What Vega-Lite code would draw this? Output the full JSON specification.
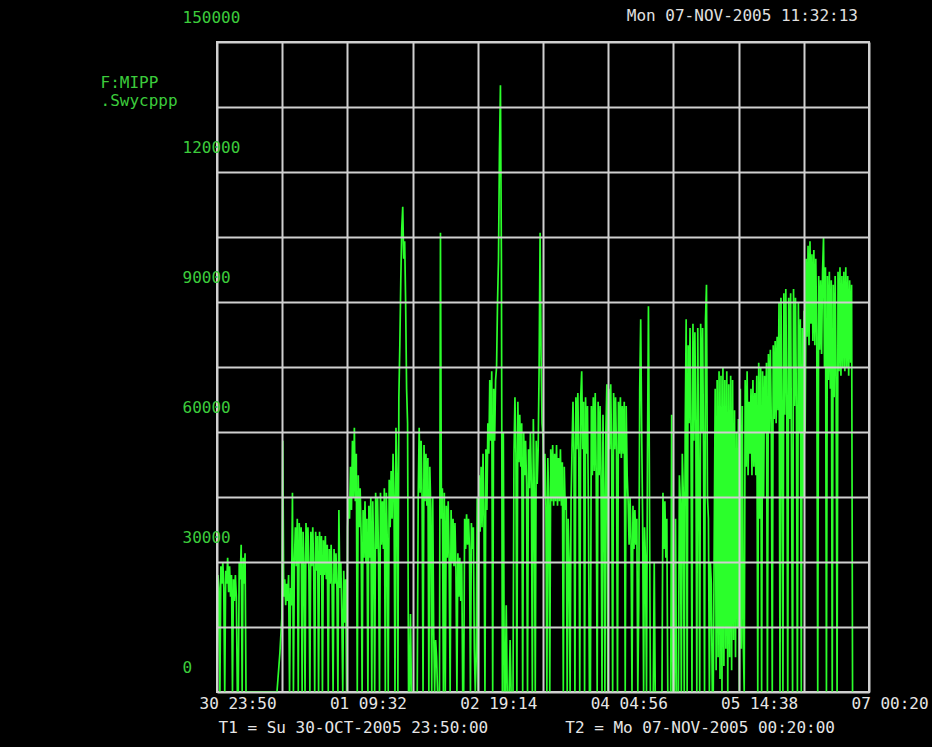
{
"$schema":"https://vega.github.io/schema/vega-lite/v6.json",
"width":652,"height":650,
"autosize":{"type":"none"},
"padding":{"left":217,"top":42,"right":63,"bottom":55},
"background":"#000000",
"config":{"view":{"stroke":"#d0d0d0","strokeWidth":2,"fill":"#000000"}},
"title":{"text":"Mon 07-NOV-2005 11:32:13","anchor":"end","frame":"group","font":"DejaVu Sans Mono","fontSize":16,"fontWeight":"normal","color":"#e0e0e0","offset":-15,"dx":-11},
"data":{"values":[
{"h":0,"v":0},{"h":0.25,"v":27000},{"h":0.5,"v":24000},{"h":0.75,"v":0},{"h":1,"v":29000},{"h":1.25,"v":25000},{"h":1.5,"v":30000},{"h":1.75,"v":24000},{"h":2,"v":0},{"h":2.25,"v":28000},{"h":2.5,"v":25000},{"h":2.75,"v":31000},{"h":3,"v":23000},{"h":3.25,"v":29000},{"h":3.5,"v":22000},{"h":3.75,"v":27000},{"h":4,"v":0},{"h":4.25,"v":26000},{"h":4.5,"v":21000},{"h":4.75,"v":27000},{"h":5,"v":22000},{"h":5.25,"v":0},{"h":5.5,"v":0},{"h":5.75,"v":30000},{"h":6,"v":26000},{"h":6.25,"v":34000},{"h":6.5,"v":0},{"h":6.75,"v":31000},{"h":7,"v":25000},{"h":7.25,"v":32000},{"h":7.5,"v":0},
{"h":15.5,"v":0},{"h":15.75,"v":3000},{"h":16,"v":6000},{"h":16.25,"v":9000},{"h":16.5,"v":13000},{"h":16.75,"v":17000},{"h":17,"v":58000},{"h":17.25,"v":22000},{"h":17.5,"v":26000},{"h":17.75,"v":20000},{"h":18,"v":25000},{"h":18.25,"v":21000},{"h":18.5,"v":27000},{"h":18.75,"v":0},{"h":19,"v":24000},{"h":19.25,"v":20000},{"h":19.5,"v":46000},{"h":19.75,"v":0},
{"h":20,"v":30000},{"h":20.25,"v":38000},{"h":20.5,"v":29000},{"h":20.75,"v":40000},{"h":21,"v":0},{"h":21.25,"v":39000},{"h":21.5,"v":30000},{"h":21.75,"v":38000},{"h":22,"v":0},{"h":22.25,"v":37000},{"h":22.5,"v":29000},{"h":22.75,"v":0},{"h":23,"v":39000},{"h":23.25,"v":30000},{"h":23.5,"v":38000},{"h":23.75,"v":28000},{"h":24,"v":0},{"h":24.25,"v":37000},{"h":24.5,"v":29000},{"h":24.75,"v":38000},{"h":25,"v":28000},{"h":25.25,"v":0},{"h":25.5,"v":37000},{"h":25.75,"v":28000},{"h":26,"v":36000},{"h":26.25,"v":0},{"h":26.5,"v":37000},{"h":26.75,"v":27000},{"h":27,"v":36000},{"h":27.25,"v":0},{"h":27.5,"v":35000},{"h":27.75,"v":27000},{"h":28,"v":36000},{"h":28.25,"v":26000},{"h":28.5,"v":34000},{"h":28.75,"v":0},{"h":29,"v":33000},{"h":29.25,"v":25000},{"h":29.5,"v":34000},{"h":29.75,"v":24000},{"h":30,"v":0},{"h":30.25,"v":33000},{"h":30.5,"v":25000},{"h":30.75,"v":32000},{"h":31,"v":24000},{"h":31.25,"v":0},{"h":31.5,"v":42000},{"h":31.75,"v":24000},{"h":32,"v":30000},{"h":32.25,"v":18000},{"h":32.5,"v":0},{"h":32.75,"v":28000},{"h":33,"v":16000},{"h":33.25,"v":26000},{"h":33.5,"v":0},
{"h":33.75,"v":38000},{"h":34,"v":45000},{"h":34.25,"v":40000},{"h":34.5,"v":52000},{"h":34.75,"v":42000},{"h":35,"v":58000},{"h":35.25,"v":45000},{"h":35.5,"v":61000},{"h":35.75,"v":44000},{"h":36,"v":55000},{"h":36.25,"v":0},{"h":36.5,"v":50000},{"h":36.75,"v":38000},{"h":37,"v":47000},{"h":37.25,"v":36000},{"h":37.5,"v":0},
{"h":37.75,"v":42000},{"h":38,"v":31000},{"h":38.25,"v":44000},{"h":38.5,"v":30000},{"h":38.75,"v":40000},{"h":39,"v":0},{"h":39.25,"v":43000},{"h":39.5,"v":31000},{"h":39.75,"v":45000},{"h":40,"v":0},{"h":40.25,"v":44000},{"h":40.5,"v":32000},{"h":40.75,"v":0},{"h":41,"v":46000},{"h":41.25,"v":33000},{"h":41.5,"v":45000},{"h":41.75,"v":31000},{"h":42,"v":0},{"h":42.25,"v":46000},{"h":42.5,"v":34000},{"h":42.75,"v":44000},{"h":43,"v":33000},{"h":43.25,"v":47000},{"h":43.5,"v":0},{"h":43.75,"v":46000},{"h":44,"v":35000},{"h":44.25,"v":0},{"h":44.5,"v":49000},{"h":44.75,"v":38000},{"h":45,"v":51000},{"h":45.25,"v":40000},{"h":45.5,"v":55000},{"h":45.75,"v":45000},{"h":46,"v":0},{"h":46.25,"v":61000},{"h":46.5,"v":50000},{"h":46.75,"v":0},{"h":47,"v":68000},{"h":47.25,"v":80000},{"h":47.5,"v":95000},{"h":47.75,"v":107000},{"h":48,"v":112000},{"h":48.25,"v":100000},{"h":48.5,"v":104000},{"h":48.75,"v":90000},{"h":49,"v":70000},{"h":49.25,"v":62000},{"h":49.5,"v":0},{"h":49.75,"v":0},{"h":50,"v":18000},{"h":50.25,"v":0},{"h":51.75,"v":0},
{"h":52,"v":45000},{"h":52.25,"v":61000},{"h":52.5,"v":46000},{"h":52.75,"v":58000},{"h":53,"v":45000},{"h":53.25,"v":0},{"h":53.5,"v":57000},{"h":53.75,"v":44000},{"h":54,"v":55000},{"h":54.25,"v":43000},{"h":54.5,"v":54000},{"h":54.75,"v":0},{"h":55,"v":52000},{"h":55.25,"v":42000},{"h":55.5,"v":0},{"h":55.75,"v":45000},{"h":56,"v":14000},{"h":56.25,"v":0},{"h":56.5,"v":12000},{"h":56.75,"v":8000},{"h":57,"v":0},{"h":57.5,"v":0},{"h":57.75,"v":106000},{"h":58,"v":40000},{"h":58.25,"v":47000},{"h":58.5,"v":0},{"h":58.75,"v":46000},{"h":59,"v":0},{"h":59.25,"v":43000},{"h":59.5,"v":31000},{"h":59.75,"v":44000},{"h":60,"v":30000},{"h":60.25,"v":0},{"h":60.5,"v":42000},{"h":60.75,"v":30000},{"h":61,"v":40000},{"h":61.25,"v":29000},{"h":61.5,"v":39000},{"h":61.75,"v":28000},{"h":62,"v":0},{"h":62.25,"v":32000},{"h":62.5,"v":22000},{"h":62.75,"v":31000},{"h":63,"v":21000},{"h":63.25,"v":30000},{"h":63.5,"v":0},{"h":63.75,"v":0},{"h":64,"v":40000},{"h":64.25,"v":33000},{"h":64.5,"v":41000},{"h":64.75,"v":34000},{"h":65,"v":40000},{"h":65.25,"v":33000},{"h":65.5,"v":0},{"h":65.75,"v":39000},{"h":66,"v":33000},{"h":66.25,"v":38000},{"h":66.5,"v":10000},{"h":66.75,"v":0},{"h":67,"v":8000},{"h":67.25,"v":45000},{"h":67.5,"v":0},{"h":67.75,"v":50000},{"h":68,"v":37000},{"h":68.25,"v":52000},{"h":68.5,"v":38000},{"h":68.75,"v":55000},{"h":69,"v":40000},{"h":69.25,"v":0},{"h":69.5,"v":56000},{"h":69.75,"v":42000},{"h":70,"v":62000},{"h":70.25,"v":55000},{"h":70.5,"v":72000},{"h":70.75,"v":58000},{"h":71,"v":74000},{"h":71.25,"v":0},{"h":71.5,"v":70000},{"h":71.75,"v":58000},{"h":72,"v":72000},{"h":72.25,"v":75000},{"h":72.5,"v":90000},{"h":72.75,"v":100000},{"h":73,"v":125000},{"h":73.25,"v":140000},{"h":73.5,"v":100000},{"h":73.75,"v":0},{"h":74,"v":60000},{"h":74.25,"v":0},{"h":74.5,"v":0},{"h":74.75,"v":20000},{"h":75,"v":0},{"h":75.5,"v":0},{"h":75.75,"v":12000},{"h":76,"v":0},{"h":76.5,"v":0},
{"h":76.75,"v":55000},{"h":77,"v":68000},{"h":77.25,"v":55000},{"h":77.5,"v":0},{"h":77.75,"v":67000},{"h":78,"v":53000},{"h":78.25,"v":64000},{"h":78.5,"v":52000},{"h":78.75,"v":62000},{"h":79,"v":0},{"h":79.25,"v":60000},{"h":79.5,"v":50000},{"h":79.75,"v":58000},{"h":80,"v":48000},{"h":80.25,"v":0},{"h":80.5,"v":56000},{"h":80.75,"v":47000},{"h":81,"v":60000},{"h":81.25,"v":48000},{"h":81.5,"v":0},{"h":81.75,"v":63000},{"h":82,"v":47000},{"h":82.25,"v":0},{"h":82.5,"v":58000},{"h":82.75,"v":48000},{"h":83,"v":56000},{"h":83.25,"v":75000},{"h":83.5,"v":106000},{"h":83.75,"v":78000},{"h":84,"v":62000},{"h":84.25,"v":59000},{"h":84.5,"v":45000},{"h":84.75,"v":55000},{"h":85,"v":43000},{"h":85.25,"v":0},{"h":85.5,"v":54000},{"h":85.75,"v":43000},{"h":86,"v":0},{"h":86.25,"v":56000},{"h":86.5,"v":44000},{"h":86.75,"v":57000},{"h":87,"v":43000},{"h":87.25,"v":55000},{"h":87.5,"v":44000},{"h":87.75,"v":57000},{"h":88,"v":43000},{"h":88.25,"v":54000},{"h":88.5,"v":44000},{"h":88.75,"v":56000},{"h":89,"v":43000},{"h":89.25,"v":53000},{"h":89.5,"v":0},{"h":89.75,"v":52000},{"h":90,"v":42000},{"h":90.25,"v":45000},{"h":90.5,"v":0},{"h":90.75,"v":40000},{"h":91,"v":30000},{"h":91.25,"v":0},{"h":91.5,"v":44000},{"h":91.75,"v":56000},
{"h":92,"v":67000},{"h":92.25,"v":55000},{"h":92.5,"v":0},{"h":92.75,"v":68000},{"h":93,"v":56000},{"h":93.25,"v":69000},{"h":93.5,"v":55000},{"h":93.75,"v":0},{"h":94,"v":68000},{"h":94.25,"v":74000},{"h":94.5,"v":56000},{"h":94.75,"v":67000},{"h":95,"v":0},{"h":95.25,"v":68000},{"h":95.5,"v":55000},{"h":95.75,"v":66000},{"h":96,"v":40000},{"h":96.25,"v":0},{"h":96.5,"v":0},{"h":96.75,"v":66000},{"h":97,"v":50000},{"h":97.25,"v":68000},{"h":97.5,"v":51000},{"h":97.75,"v":69000},{"h":98,"v":50000},{"h":98.25,"v":0},{"h":98.5,"v":67000},{"h":98.75,"v":50000},{"h":99,"v":66000},{"h":99.25,"v":49000},{"h":99.5,"v":0},{"h":99.75,"v":64000},{"h":100,"v":45000},{"h":100.25,"v":0},{"h":100.5,"v":60000},{"h":100.75,"v":71000},{"h":101,"v":0},{"h":101.25,"v":70000},{"h":101.5,"v":56000},{"h":101.75,"v":71000},{"h":102,"v":55000},{"h":102.25,"v":0},{"h":102.5,"v":69000},{"h":102.75,"v":56000},{"h":103,"v":68000},{"h":103.25,"v":55000},{"h":103.5,"v":0},{"h":103.75,"v":67000},{"h":104,"v":55000},{"h":104.25,"v":68000},{"h":104.5,"v":54000},{"h":104.75,"v":66000},{"h":105,"v":55000},{"h":105.25,"v":67000},{"h":105.5,"v":0},{"h":105.75,"v":66000},{"h":106,"v":50000},{"h":106.25,"v":44000},{"h":106.5,"v":34000},{"h":106.75,"v":45000},{"h":107,"v":35000},{"h":107.25,"v":0},{"h":107.5,"v":43000},{"h":107.75,"v":33000},{"h":108,"v":42000},{"h":108.25,"v":34000},{"h":108.5,"v":40000},{"h":108.75,"v":0},{"h":109,"v":20000},{"h":109.25,"v":70000},{"h":109.5,"v":86000},{"h":109.75,"v":60000},{"h":110,"v":40000},{"h":110.25,"v":0},{"h":110.5,"v":38000},{"h":110.75,"v":30000},{"h":111,"v":0},{"h":111.25,"v":55000},{"h":111.5,"v":89000},{"h":111.75,"v":50000},{"h":112,"v":0},{"h":112.75,"v":0},{"h":113,"v":30000},{"h":113.25,"v":0},{"h":115,"v":0},{"h":115.25,"v":46000},{"h":115.5,"v":33000},{"h":115.75,"v":44000},{"h":116,"v":31000},{"h":116.25,"v":40000},{"h":116.5,"v":0},{"h":117.25,"v":0},{"h":117.5,"v":64000},{"h":117.75,"v":0},{"h":118.25,"v":0},{"h":118.5,"v":40000},{"h":118.75,"v":0},{"h":119.25,"v":0},{"h":119.5,"v":50000},{"h":119.75,"v":44000},{"h":120,"v":0},{"h":120.25,"v":55000},{"h":120.5,"v":46000},{"h":120.75,"v":0},{"h":121,"v":60000},{"h":121.25,"v":86000},{"h":121.5,"v":0},{"h":121.75,"v":80000},{"h":122,"v":62000},{"h":122.25,"v":84000},{"h":122.5,"v":60000},{"h":122.75,"v":0},{"h":123,"v":85000},{"h":123.25,"v":58000},{"h":123.5,"v":83000},{"h":123.75,"v":62000},{"h":124,"v":0},{"h":124.25,"v":84000},{"h":124.5,"v":48000},{"h":124.75,"v":0},{"h":125,"v":85000},{"h":125.25,"v":60000},{"h":125.5,"v":84000},{"h":125.75,"v":55000},{"h":126,"v":0},{"h":126.25,"v":86000},{"h":126.5,"v":94000},{"h":126.75,"v":45000},{"h":127,"v":40000},{"h":127.25,"v":0},{"h":127.5,"v":30000},{"h":127.75,"v":25000},{"h":128,"v":0},{"h":128.25,"v":0},{"h":128.5,"v":35000},
{"h":128.75,"v":70000},{"h":129,"v":5000},{"h":129.25,"v":72000},{"h":129.5,"v":8000},{"h":129.75,"v":74000},{"h":130,"v":3000},{"h":130.25,"v":73000},{"h":130.5,"v":0},{"h":130.75,"v":75000},{"h":131,"v":6000},{"h":131.25,"v":72000},{"h":131.5,"v":10000},{"h":131.75,"v":74000},{"h":132,"v":0},{"h":132.25,"v":71000},{"h":132.5,"v":8000},{"h":132.75,"v":73000},{"h":133,"v":5000},{"h":133.25,"v":72000},{"h":133.5,"v":12000},{"h":133.75,"v":65000},{"h":134,"v":8000},{"h":134.25,"v":60000},{"h":134.5,"v":15000},{"h":134.75,"v":63000},{"h":135,"v":0},{"h":135.25,"v":70000},{"h":135.5,"v":10000},{"h":135.75,"v":66000},{"h":136,"v":12000},{"h":136.25,"v":0},{"h":136.5,"v":72000},{"h":136.75,"v":52000},{"h":137,"v":74000},{"h":137.25,"v":50000},{"h":137.5,"v":67000},{"h":137.75,"v":55000},{"h":138,"v":70000},{"h":138.25,"v":50000},{"h":138.5,"v":72000},{"h":138.75,"v":52000},{"h":139,"v":69000},{"h":139.25,"v":50000},{"h":139.5,"v":73000},{"h":139.75,"v":0},{"h":140,"v":76000},{"h":140.25,"v":40000},{"h":140.5,"v":75000},{"h":140.75,"v":0},{"h":141,"v":74000},{"h":141.25,"v":45000},{"h":141.5,"v":73000},{"h":141.75,"v":60000},{"h":142,"v":76000},{"h":142.25,"v":0},{"h":142.5,"v":78000},{"h":142.75,"v":60000},{"h":143,"v":79000},{"h":143.25,"v":62000},{"h":143.5,"v":0},{"h":143.75,"v":80000},{"h":144,"v":63000},{"h":144.25,"v":81000},{"h":144.5,"v":62000},{"h":144.75,"v":82000},{"h":145,"v":65000},{"h":145.25,"v":90000},{"h":145.5,"v":0},{"h":145.75,"v":91000},{"h":146,"v":66000},{"h":146.25,"v":0},{"h":146.5,"v":92000},{"h":146.75,"v":64000},{"h":147,"v":93000},{"h":147.25,"v":68000},{"h":147.5,"v":0},{"h":147.75,"v":91000},{"h":148,"v":63000},{"h":148.25,"v":92000},{"h":148.5,"v":48000},{"h":148.75,"v":0},{"h":149,"v":93000},{"h":149.25,"v":66000},{"h":149.5,"v":91000},{"h":149.75,"v":65000},{"h":150,"v":0},{"h":150.25,"v":90000},{"h":150.5,"v":60000},{"h":150.75,"v":86000},{"h":151,"v":0},{"h":151.25,"v":84000},{"h":151.5,"v":45000},{"h":151.75,"v":88000},{"h":152,"v":60000},{"h":152.25,"v":100000},{"h":152.5,"v":82000},{"h":152.75,"v":103000},{"h":153,"v":80000},{"h":153.25,"v":104000},{"h":153.5,"v":85000},{"h":153.75,"v":101000},{"h":154,"v":81000},{"h":154.25,"v":102000},{"h":154.5,"v":80000},{"h":154.75,"v":100000},{"h":155,"v":82000},{"h":155.25,"v":0},{"h":155.5,"v":96000},{"h":155.75,"v":79000},{"h":156,"v":95000},{"h":156.25,"v":78000},{"h":156.5,"v":97000},{"h":156.75,"v":105000},{"h":157,"v":75000},{"h":157.25,"v":98000},{"h":157.5,"v":0},{"h":157.75,"v":96000},{"h":158,"v":72000},{"h":158.25,"v":97000},{"h":158.5,"v":70000},{"h":158.75,"v":95000},{"h":159,"v":0},{"h":159.25,"v":94000},{"h":159.5,"v":68000},{"h":159.75,"v":96000},{"h":160,"v":72000},{"h":160.25,"v":0},{"h":160.5,"v":97000},{"h":160.75,"v":74000},{"h":161,"v":98000},{"h":161.25,"v":73000},{"h":161.5,"v":96000},{"h":161.75,"v":75000},{"h":162,"v":97000},{"h":162.25,"v":74000},{"h":162.5,"v":98000},{"h":162.75,"v":75000},{"h":163,"v":96000},{"h":163.25,"v":73000},{"h":163.5,"v":95000},{"h":163.75,"v":76000},{"h":164,"v":94000},{"h":164.25,"v":0}
]},
"mark":{"type":"line","color":"#2bff2b","strokeWidth":1.7,"clip":true},
"encoding":{
"x":{"field":"h","type":"quantitative","scale":{"domain":[0,168.5],"nice":false,"zero":false},
"axis":{"values":[0,16.85,33.7,50.55,67.4,84.25,101.1,117.95,134.8,151.65,168.5],"zindex":1,"grid":true,"gridColor":"#d0d0d0","gridWidth":2,"domain":false,"ticks":false,"tickSize":0,
"labelExpr":"round(datum.value/16.85)%2==0 ? timeFormat(time(datetime(2005,9,30,23,50,30))+datum.value*3600000,'%d %H:%M') : ''",
"labelAlign":"left","labelOffset":-18,"labelBaseline":"middle","labelPadding":11,"labelFont":"DejaVu Sans Mono","labelFontSize":16,"labelColor":"#e6e6e6","labelFlush":false,"labelOverlap":false,"labelBound":false,
"title":"T1 = Su 30-OCT-2005 23:50:00\u00a0\u00a0\u00a0\u00a0\u00a0\u00a0\u00a0\u00a0T2 = Mo 07-NOV-2005 00:20:00","titleX":1,"titleY":35,"titleAlign":"left","titleAnchor":"start","titleBaseline":"middle","titleFont":"DejaVu Sans Mono","titleFontSize":16,"titleFontWeight":"normal","titleColor":"#e6e6e6"}},
"y":{"field":"v","type":"quantitative","scale":{"domain":[0,150000],"nice":false,"zero":true},
"axis":{"values":[0,15000,30000,45000,60000,75000,90000,105000,120000,135000,150000],"zindex":1,"grid":true,"gridColor":"#d0d0d0","gridWidth":2,"domain":false,"ticks":false,"tickSize":0,
"labelExpr":"datum.value % 30000 == 0 ? format(datum.value,'d') : ''",
"labelAlign":"left","labelBaseline":"middle","labelPadding":35,"labelOffset":-25,"labelFont":"DejaVu Sans Mono","labelFontSize":16,"labelColor":"#3ccc3c","labelOverlap":false,"labelBound":false,"labelFlush":false,
"title":["F:MIPP",".Swycppp"],"titleAngle":0,"titleX":-117,"titleY":40,"titleAlign":"left","titleBaseline":"middle","titleLineHeight":18,"titleFont":"DejaVu Sans Mono","titleFontSize":16,"titleFontWeight":"normal","titleColor":"#3ccc3c"}}
}
}
